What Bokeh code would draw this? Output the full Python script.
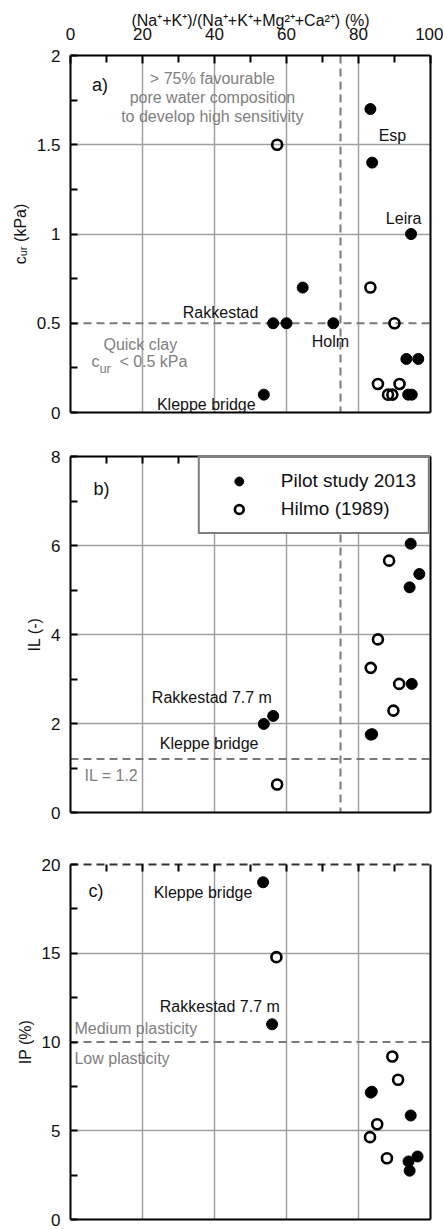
from bokeh.plotting import figure
from bokeh.layouts import column
from bokeh.models import (Range1d, LinearAxis, FixedTicker, NumeralTickFormatter, Span,
                          Label, Legend, LegendItem, Grid)
from bokeh.embed import file_html
from bokeh.resources import INLINE

FONT = "Liberation Sans"
GREY_TXT = "#808080"
GRID_C = "#a0a0a0"
DASH_C = "#7a7a7a"

# ---------------- data ----------------
x_ticks = [0, 20, 40, 60, 80, 100]
x_minor = [10, 30, 50, 70, 90]
x_all = [10, 20, 30, 40, 50, 60, 70, 80, 90]
x_title = "(Na⁺+K⁺)/(Na⁺+K⁺+Mg²⁺+Ca²⁺) (%)"
series_names = ["Pilot study 2013", "Hilmo (1989)"]

# panel a) remoulded shear strength c_ur (kPa)
a_title = "cᵤᵣ (kPa)"
a_ticks = [0, 0.5, 1, 1.5, 2]
a_minor = [0.25, 0.75, 1.25, 1.75]
a_pilot_x = [83.3, 83.8, 94.6, 64.5, 56.3, 60.0, 73.0, 53.7, 93.3, 96.6, 93.8, 94.8]
a_pilot_y = [1.7, 1.4, 1.0, 0.7, 0.5, 0.5, 0.5, 0.1, 0.3, 0.3, 0.1, 0.1]
a_hilmo_x = [57.4, 83.3, 90.0, 85.4, 91.4, 88.2, 89.4]
a_hilmo_y = [1.5, 0.7, 0.5, 0.16, 0.16, 0.1, 0.1]

# panel b) liquidity index IL (-)
b_title = "IL (-)"
b_ticks = [0, 2, 4, 6, 8]
b_minor = [1, 3, 5, 7]
b_pilot_x = [94.5, 96.9, 94.2, 94.8, 83.4, 83.8, 53.7, 56.3]
b_pilot_y = [6.04, 5.36, 5.06, 2.89, 1.75, 1.76, 1.99, 2.17]
b_hilmo_x = [88.5, 85.4, 83.4, 91.3, 89.7, 57.4]
b_hilmo_y = [5.66, 3.89, 3.25, 2.89, 2.29, 0.63]

# panel c) plasticity index IP (%)
c_title = "IP (%)"
c_ticks = [0, 5, 10, 15, 20]
c_minor = [2.5, 7.5, 12.5, 17.5]
c_pilot_x = [53.5, 56.0, 83.4, 83.7, 94.5, 93.9, 94.2, 96.4]
c_pilot_y = [19.0, 11.0, 7.15, 7.2, 5.86, 3.27, 2.75, 3.55]
c_hilmo_x = [57.2, 89.4, 91.0, 85.2, 83.2, 87.9]
c_hilmo_y = [14.78, 9.18, 7.87, 5.37, 4.64, 3.45]


def panel(ylim, yticks, yminor, ygrid, ytitle, frame_h, top_b, bot_b, top_labels, top_dashed):
    p = figure(frame_width=360, frame_height=frame_h,
               x_range=Range1d(0, 100), y_range=Range1d(*ylim),
               x_axis_type=None, y_axis_type=None,
               output_backend="svg", toolbar_location=None,
               min_border_left=70, min_border_right=13,
               min_border_top=top_b, min_border_bottom=bot_b)
    p.outline_line_color = None
    p.background_fill_color = "white"
    p.border_fill_color = "white"

    p.add_layout(Grid(dimension=0, ticker=FixedTicker(ticks=[20, 40, 60, 80]),
                      grid_line_color=GRID_C, grid_line_width=1.5))
    p.add_layout(Grid(dimension=1, ticker=FixedTicker(ticks=ygrid),
                      grid_line_color=GRID_C, grid_line_width=1.5))

    if top_labels:
        top = LinearAxis(ticker=FixedTicker(ticks=x_ticks, minor_ticks=x_minor))
        top.major_label_text_font = FONT
        top.major_label_text_color = "#111111"
        top.major_label_text_font_size = "17px"
        top.major_label_standoff = 16
        top.axis_label = x_title
        top.axis_label_text_font = FONT
        top.axis_label_text_font_size = "16px"
        top.axis_label_text_font_style = "normal"
        top.axis_label_text_color = "#111111"
        top.axis_label_standoff = -4
    else:
        top = LinearAxis(ticker=FixedTicker(ticks=[], minor_ticks=x_all))
        top.major_label_standoff = 0
    top.major_tick_in = 8
    top.major_tick_out = 0
    top.minor_tick_in = 7
    top.minor_tick_out = 0
    top.major_tick_line_width = 2
    top.minor_tick_line_width = 2
    top.axis_line_width = 2
    if top_dashed:
        top.axis_line_dash = "8 5"
        top.axis_line_color = "#333333"
    p.add_layout(top, "above")

    left = LinearAxis(ticker=FixedTicker(ticks=yticks, minor_ticks=yminor),
                      formatter=NumeralTickFormatter(format="0.[0]"))
    left.major_tick_in = 7
    left.major_tick_out = 0
    left.minor_tick_in = 7
    left.minor_tick_out = 0
    left.major_tick_line_width = 2
    left.minor_tick_line_width = 2
    left.axis_line_width = 2
    left.major_label_standoff = 10
    left.major_label_text_font = FONT
    left.major_label_text_font_size = "17px"
    left.major_label_text_color = "#111111"
    left.axis_label = ytitle
    left.axis_label_text_font = FONT
    left.axis_label_text_font_size = "16px"
    left.axis_label_text_font_style = "normal"
    left.axis_label_text_color = "#111111"
    left.axis_label_standoff = 5
    p.add_layout(left, "left")

    for side in ("right", "below"):
        ax = LinearAxis(ticker=FixedTicker(ticks=[]))
        ax.major_tick_line_color = None
        ax.minor_tick_line_color = None
        ax.major_label_standoff = 0
        ax.axis_line_width = 2
        p.add_layout(ax, side)
    return p


def txt(p, x, y, s, size="16px", color="#111111", align="left", xo=0, yo=0):
    p.add_layout(Label(x=x, y=y, text=s, text_font=FONT, text_font_size=size,
                       text_color=color, text_align=align, text_baseline="middle",
                       x_offset=xo, y_offset=yo))


def points(p, px, py, hx, hy):
    r1 = p.scatter(px, py, marker="circle", size=11, fill_color="black", line_color="black")
    r2 = p.scatter(hx, hy, marker="circle", size=10, fill_color=None, line_color="black",
                   line_width=2.6)
    return r1, r2


def dash(p, loc, dim):
    p.add_layout(Span(location=loc, dimension=dim, line_color=DASH_C, line_width=2,
                      line_dash="8 5", level="underlay"))


# ---------------- panel a ----------------
pa = panel((0, 2), a_ticks, a_minor, [1, 1.5], a_title, 357, 55, 34, True, False)
dash(pa, 75, "height")
dash(pa, 0.5, "width")
points(pa, a_pilot_x, a_pilot_y, a_hilmo_x, a_hilmo_y)
txt(pa, 6.0, 1.835, "a)", "18px")
for s, yy in (("> 75% favourable", 1.872), ("pore water composition", 1.765),
              ("to develop high sensitivity", 1.66)):
    txt(pa, 39.4, yy, s, "16px", GREY_TXT, "center")
txt(pa, 85.6, 1.55, "Esp")
txt(pa, 87.6, 1.085, "Leira")
txt(pa, 31.2, 0.56, "Rakkestad")
txt(pa, 67.0, 0.40, "Holm")
txt(pa, 24.0, 0.045, "Kleppe bridge")
txt(pa, 19.4, 0.38, "Quick clay", "16px", GREY_TXT, "center")
txt(pa, 5.8, 0.285, "c", "16px", GREY_TXT)
txt(pa, 5.8, 0.285, "ur", "13px", GREY_TXT, xo=8, yo=-7)
txt(pa, 5.8, 0.285, "< 0.5 kPa", "16px", GREY_TXT, xo=28)

# ---------------- panel b ----------------
pb = panel((0, 8), b_ticks, b_minor, [2, 4, 6], b_title, 356, 10, 42, False, False)
dash(pb, 75, "height")
dash(pb, 1.2, "width")
rb1, rb2 = points(pb, b_pilot_x, b_pilot_y, b_hilmo_x, b_hilmo_y)
txt(pb, 6.4, 7.28, "b)", "18px")
txt(pb, 22.6, 2.58, "Rakkestad 7.7 m")
txt(pb, 24.8, 1.55, "Kleppe bridge")
txt(pb, 3.9, 0.83, "IL = 1.2", "16px", GREY_TXT)
leg = Legend(items=[LegendItem(label=series_names[0], renderers=[rb1]),
                    LegendItem(label=series_names[1], renderers=[rb2])],
             location="top_right", margin=0, padding=12, spacing=6,
             glyph_width=54, glyph_height=22, label_height=22, label_standoff=15,
             label_text_font=FONT, label_text_font_size="19px", label_text_color="#111111",
             border_line_color="black", border_line_width=2,
             background_fill_color="white", background_fill_alpha=1.0)
pb.add_layout(leg)

# ---------------- panel c ----------------
pc = panel((0, 20), c_ticks, c_minor, [5, 15], c_title, 355, 10, 10, False, True)
dash(pc, 10, "width")
points(pc, c_pilot_x, c_pilot_y, c_hilmo_x, c_hilmo_y)
txt(pc, 5.0, 18.5, "c)", "18px")
txt(pc, 23.1, 18.4, "Kleppe bridge")
txt(pc, 24.8, 12.0, "Rakkestad 7.7 m")
txt(pc, 1.1, 10.76, "Medium plasticity", "16px", GREY_TXT)
txt(pc, 1.1, 9.07, "Low plasticity", "16px", GREY_TXT)

layout = column(pa, pb, pc, spacing=0)
open("out.html", "w").write(file_html(layout, INLINE))
